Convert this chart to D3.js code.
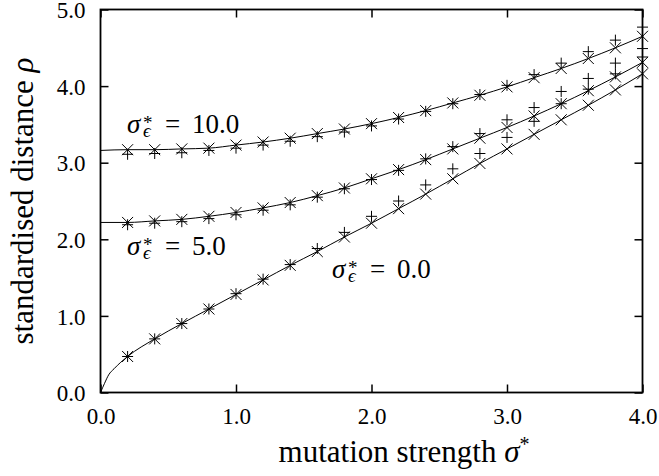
<!DOCTYPE html>
<html>
<head>
<meta charset="utf-8">
<script src="https://cdn.jsdelivr.net/npm/d3@7"></script>
</head>
<body style="margin:0">
<script>
// mutation strengths where the simulations were run
var sigmaX = [0.2, 0.4, 0.6, 0.8, 1.0, 1.2, 1.4, 1.6, 1.8, 2.0, 2.2, 2.4, 2.6, 2.8, 3.0, 3.2, 3.4, 3.6, 3.8, 4.0];

// noise 10.0
var cross10 = [3.17, 3.17, 3.18, 3.19, 3.23, 3.27, 3.32, 3.38, 3.44, 3.51, 3.59, 3.68, 3.78, 3.88, 3.99, 4.11, 4.23, 4.36, 4.50, 4.65];
var plus10  = [3.11, 3.12, 3.13, 3.16, 3.19, 3.23, 3.28, 3.34, 3.40, 3.48, 3.57, 3.67, 3.77, 3.89, 4.01, 4.15, 4.30, 4.45, 4.60, 4.77];
// noise 5.0
var cross5 = [2.22, 2.24, 2.26, 2.30, 2.35, 2.41, 2.48, 2.57, 2.67, 2.79, 2.91, 3.04, 3.18, 3.32, 3.46, 3.61, 3.77, 3.94, 4.12, 4.31];
var plus5  = [2.19, 2.21, 2.23, 2.27, 2.32, 2.38, 2.45, 2.55, 2.66, 2.78, 2.90, 3.05, 3.21, 3.38, 3.56, 3.72, 3.93, 4.10, 4.30, 4.49];
// noise 0.0
var cross0 = [0.47, 0.70, 0.90, 1.09, 1.28, 1.47, 1.66, 1.84, 2.03, 2.21, 2.40, 2.59, 2.79, 2.99, 3.18, 3.37, 3.56, 3.75, 3.95, 4.16];
var plus0  = [0.47, 0.70, 0.90, 1.09, 1.29, 1.48, 1.67, 1.88, 2.09, 2.30, 2.50, 2.71, 2.92, 3.12, 3.33, 3.54, 3.77, 3.96, 4.16, 4.38];

// theory curves: start values near sigma = 0, then through the sample points
var start10 = [0.0], startVal10 = [3.16];
var start5 = [0.0], startVal5 = [2.22];
var start0 = [0.0, 0.03, 0.06, 0.1], startVal0 = [0.0, 0.12, 0.23, 0.31];

var xTicks = [0, 1, 2, 3, 4];
var yTicks = [0, 1, 2, 3, 4, 5];

var FONT = "'Liberation Serif'";
var width = 659, height = 476;

var svg = d3.select("body")
    .append("svg")
    .attr("width", width)
    .attr("height", height);

var x = d3.scaleLinear().domain([0, 4]).range([100.5, 642.5]);
var y = d3.scaleLinear().domain([0, 5]).range([392.5, 9.5]);

var fmt = d3.format(".1f");

// axes, ticks point inward on all four sides
var gx = svg.append("g")
    .attr("transform", "translate(0," + y(0) + ")")
    .call(d3.axisBottom(x).tickValues(xTicks).tickSize(-8).tickPadding(15).tickFormat(fmt));
var gy = svg.append("g")
    .attr("transform", "translate(" + x(0) + ",0)")
    .call(d3.axisLeft(y).tickValues(yTicks).tickSize(-8).tickPadding(15).tickFormat(fmt));
var gt = svg.append("g")
    .attr("transform", "translate(0," + y(5) + ")")
    .call(d3.axisTop(x).tickValues(xTicks).tickSize(-8).tickFormat(""));
var gr = svg.append("g")
    .attr("transform", "translate(" + x(4) + ",0)")
    .call(d3.axisRight(y).tickValues(yTicks).tickSize(-8).tickFormat(""));

[gx, gy, gt, gr].forEach(function(g) {
    g.attr("font-family", null).attr("font-size", null);
    g.select(".domain").remove();
    g.selectAll(".tick line").attr("stroke", "#000").attr("stroke-width", 1.5);
    g.selectAll(".tick text")
        .attr("fill", "#000")
        .style("font-family", FONT)
        .style("font-size", "23px");
});
gy.selectAll(".tick text").attr("dy", "0.36em");

svg.append("rect")
    .attr("x", x(0))
    .attr("y", y(5))
    .attr("width", x(4) - x(0))
    .attr("height", y(0) - y(5))
    .attr("fill", "none")
    .attr("stroke", "#000")
    .attr("stroke-width", 1.8);

// curves
var line = d3.line()
    .x(function(d) { return x(d[0]); })
    .y(function(d) { return y(d[1]); })
    .curve(d3.curveMonotoneX);

function curvePoints(sx, sv, vals) {
    return d3.zip(sx.concat(sigmaX), sv.concat(vals));
}

[curvePoints(start10, startVal10, cross10),
 curvePoints(start5, startVal5, cross5),
 curvePoints(start0, startVal0, cross0)].forEach(function(pts) {
    svg.append("path")
        .datum(pts)
        .attr("d", line)
        .attr("fill", "none")
        .attr("stroke", "#000")
        .attr("stroke-width", 1);
});

// markers
var crossPath = "M-5.5,-5.5L5.5,5.5M-5.5,5.5L5.5,-5.5";
var plusPath = "M-5.5,0H5.5M0,-5.5V5.5";

function drawMarks(vals, shape) {
    svg.append("g")
        .selectAll("path")
        .data(d3.zip(sigmaX, vals))
        .enter()
        .append("path")
        .attr("transform", function(d) { return "translate(" + x(d[0]) + "," + y(d[1]) + ")"; })
        .attr("d", shape)
        .attr("fill", "none")
        .attr("stroke", "#000")
        .attr("stroke-width", 1);
}

drawMarks(cross10, crossPath);
drawMarks(plus10, plusPath);
drawMarks(cross5, crossPath);
drawMarks(plus5, plusPath);
drawMarks(cross0, crossPath);
drawMarks(plus0, plusPath);

// curve labels, sigma*_epsilon = value (one text element, scripts stacked)
function noiseLabel(x0, yb, value) {
    var t = svg.append("text")
        .attr("x", x0).attr("y", yb)
        .style("font-family", FONT)
        .style("font-size", "27px");
    t.append("tspan").style("font-style", "italic").text("σ");
    t.append("tspan").attr("x", x0 + 16).attr("dy", -4).style("font-size", "19px").text("*");
    t.append("tspan").attr("x", x0 + 16).attr("dy", 8).style("font-size", "19px").style("font-style", "italic").text("ϵ");
    t.append("tspan").attr("x", x0 + 38).attr("dy", -4).text("=");
    t.append("tspan").attr("x", x0 + 65).text(value);
}

noiseLabel(127, 133, "10.0");
noiseLabel(127, 255, "5.0");
noiseLabel(332, 278, "0.0");

// axis titles
var xt = svg.append("text")
    .attr("x", 404)
    .attr("y", 462)
    .attr("text-anchor", "middle")
    .style("font-family", FONT)
    .style("font-size", "31px");
xt.append("tspan").text("mutation strength ");
xt.append("tspan").style("font-style", "italic").text("σ");
xt.append("tspan").attr("dy", -11).style("font-size", "20px").text("*");

var yt = svg.append("text")
    .attr("transform", "translate(33,201) rotate(-90)")
    .attr("text-anchor", "middle")
    .style("font-family", FONT)
    .style("font-size", "31px");
yt.append("tspan").text("standardised distance ");
yt.append("tspan").style("font-style", "italic").text("ρ");
</script>
</body>
</html>
